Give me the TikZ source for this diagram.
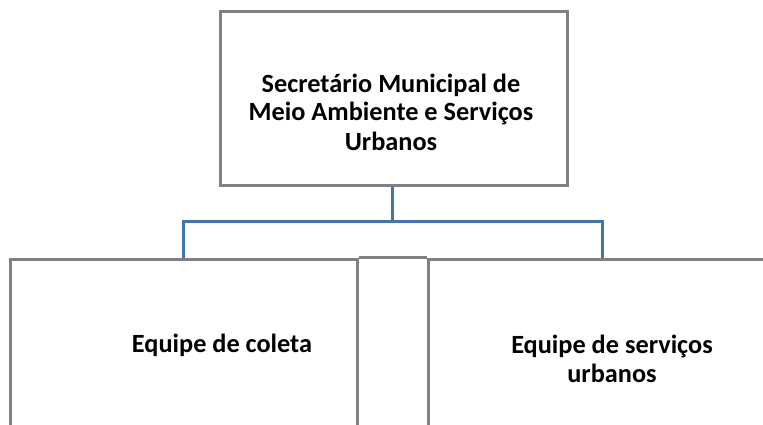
\documentclass[tikz,border=0pt]{standalone}
\usepackage{fontspec}
\setmainfont{Carlito}
\definecolor{boxgray}{RGB}{128,128,128}
\definecolor{linkblue}{RGB}{65,119,168}
\begin{document}
\begin{tikzpicture}[x=1pt,y=-1pt,
  orgbox/.style={draw=boxgray,line width=3pt,fill=none,inner sep=0pt,minimum width=347pt},
  label/.style={font=\fontsize{26.3pt}{29pt}\selectfont\bfseries,align=center,inner sep=0pt,anchor=base},
  link/.style={draw=linkblue,line width=3pt}]
\useasboundingbox (0,0) rectangle (763,425);
\clip (0,0) rectangle (763,425);
% top box
\node[orgbox,minimum height=173pt] (top) at (393.5,98.5) {};
\node[label] (toptext) at (391,150) {Secretário Municipal de\\Meio Ambiente e Serviços\\Urbanos};
% bottom boxes
\node[orgbox,minimum height=200pt,anchor=north] (left) at (183.5,257.5) {};
\node[orgbox,minimum height=200pt,anchor=north] (right) at (602,257.5) {};
\draw[boxgray,line width=3pt] (left.north east) -- (right.north west);
\node[label] (lefttext) at (222,352) {Equipe de coleta};
\node[label] (righttext) at (612,382) {Equipe de serviços\\urbanos};
% connectors
\coordinate (bar) at (392,221);
\draw[link] (top.south -| bar) -- (bar);
\draw[link] (left.north) |- (bar) -| (right.north);
\end{tikzpicture}
\end{document}
